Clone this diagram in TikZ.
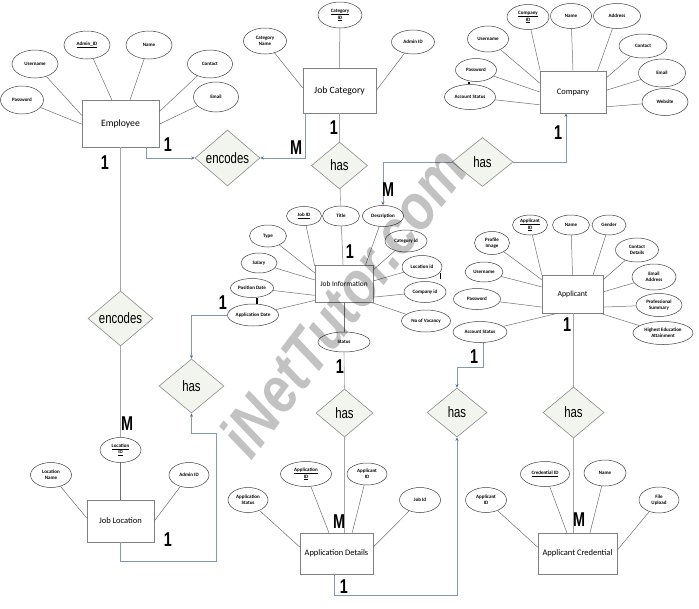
\documentclass[tikz,border=0pt]{standalone}
\usepackage{fontspec}
\setmainfont{Carlito}
\newfontfamily\relfont[FakeStretch=0.76]{Liberation Sans}
\newfontfamily\cardfont[FakeStretch=0.72]{Liberation Sans Bold}
\newfontfamily\wmfont[FakeStretch=0.85]{Liberation Sans Bold Italic}
\usetikzlibrary{shapes.geometric,arrows.meta,calc}
\definecolor{entline}{HTML}{808080}
\definecolor{ellline}{HTML}{404040}
\definecolor{attrline}{HTML}{707070}
\definecolor{plainline}{HTML}{A6A6A6}
\definecolor{connline}{HTML}{8398B8}
\definecolor{connarrow}{HTML}{4F6F9F}
\definecolor{relline}{HTML}{8C8C8C}
\definecolor{relfill}{HTML}{F2F4EE}
\tikzset{
 ent/.style n args={3}{draw=entline, line width=0.6pt, fill=white, rectangle, inner sep=0pt,
   minimum width=#1pt, minimum height=#2pt, font=\fontsize{#3}{#3}\selectfont},
 attr/.style 2 args={ellipse, draw=ellline, line width=0.5pt, fill=white, inner sep=0pt,
   minimum width=#1pt, minimum height=#2pt, align=center, font=\fontsize{5}{6}\selectfont\bfseries},
 rel/.style 2 args={diamond, aspect=1.2, draw=relline, fill=relfill, line width=0.6pt, inner sep=0pt,
   minimum width=#1pt, minimum height=#2pt, font=\relfont\fontsize{15}{16}\selectfont},
 card/.style={font=\cardfont\fontsize{20}{20}\selectfont, inner sep=0pt},
 aline/.style={draw=attrline, line width=0.5pt},
 rline/.style={draw=plainline, line width=0.6pt},
 conn/.style={draw=connline, line width=0.6pt, -{Stealth[length=3.5pt,width=3pt,color=connarrow]}},
 tick/.style={draw=black, line width=1.3pt},
 wm/.style={rotate=53, font=\wmfont\fontsize{64}{64}\selectfont, text=black, text opacity=0.24, inner sep=0pt},
}
\begin{document}
\begin{tikzpicture}[x=1pt,y=-1pt]
\fill[white] (0,0) rectangle (699,608);
\useasboundingbox (0,0) rectangle (699,608);

% entities
\node[ent={77}{47}{9.7}] (emp) at (120.5,123.5) {Employee};
\node[ent={73}{45}{9.7}] (jc) at (339.5,90.5) {Job Category};
\node[ent={66}{42}{8.4}] (comp) at (573,92) {Company};
\node[ent={58}{37}{7.4}] (ji) at (344,283.5) {Job Information};
\node[ent={61}{38}{7.8}] (app) at (572.5,294) {Applicant};
\node[ent={67}{42}{8.5}] (jl) at (120.5,521) {Job Location};
\node[ent={73}{41}{8.4}] (appdet) at (336.5,553.5) {Application Details};
\node[ent={79}{41}{8.5}] (acred) at (577.5,553.5) {Applicant Credential};

% relationships
\node[rel={65}{56}] (enc1) at (227.5,158) {encodes};
\node[rel={56}{47}] (has1) at (339.5,165.5) {has};
\node[rel={61}{49}] (has2) at (482.5,162) {has};
\node[rel={65}{54}] (has3) at (191.5,386) {has};
\node[rel={65}{55}] (enc2) at (120.5,318.5) {encodes};
\node[rel={57}{48}] (has4) at (344.5,413) {has};
\node[rel={60}{49}] (has5) at (457,412.5) {has};
\node[rel={61}{51}] (has6) at (573.5,412.5) {has};

% Employee attributes
\node[attr={43}{28}] (epw) at (22,100) {Password};
\node[attr={46}{28}] (eun) at (35,64) {Username};
\node[attr={46}{28}] (eid) at (87,45) {\underline{Admin\_ID}};
\node[attr={46}{28}] (enm) at (149,45) {Name};
\node[attr={45}{28}] (ect) at (210,64) {Contact};
\node[attr={45}{30}] (eem) at (216,97) {Email};
\draw[aline] (epw) -- (emp.181);
\draw[aline] (eun) -- (emp.168);
\draw[aline] (eid) -- (emp.110);
\draw[aline] (enm) -- (emp.68);
\draw[aline] (ect) -- (emp.17);
\draw[aline] (eem) -- (emp.359);

% Job Category attributes
\node[attr={43}{26}] (jcn) at (265,41) {Category\\Name};
\node[attr={44}{26}] (jcid) at (340,15) {\underline{Category}\\\underline{ID}};
\node[attr={43}{24}] (jca) at (413,42) {Admin ID};
\draw[aline] (jcn) -- (jc.176);
\draw[aline] (jcid) -- (jc.north);
\draw[aline] (jca) -- (jc.east);

% Company attributes
\node[attr={42}{25}] (cid) at (528,17) {\underline{Company}\\\underline{ID}};
\node[attr={41}{25}] (cnm) at (571,16) {Name};
\node[attr={47}{25}] (cad) at (617,16) {Address};
\node[attr={41}{26}] (cun) at (488,39) {Username};
\node[attr={48}{24}] (cct) at (643,46) {Contact};
\node[attr={41}{23}] (cpw) at (476,70) {Password};
\node[attr={47}{28}] (cem) at (662,73) {Email};
\node[attr={51}{25}] (cas) at (470,97) {Account Status};
\node[attr={46}{27}] (cws) at (665,102) {Website};
\draw[aline] (cid) -- (comp.147);
\draw[aline] (cnm) -- (comp.north);
\draw[aline] (cad) -- (comp.41);
\draw[aline] (cun) -- (comp.165);
\draw[aline] (cct) -- (comp.23);
\draw[aline] (cpw) -- (comp.180);
\draw[aline] (cem) -- (comp.3);
\draw[aline] (cas) -- (comp.201);
\draw[aline] (cws) -- (comp.336);
\draw[tick] ([xshift=-7pt]cpw.south) -- ([xshift=-1pt]cas.north);

% Job Information attributes
\node[attr={35}{19}] (jid) at (304,216) {\underline{Job ID}};
\node[attr={37}{20}] (jti) at (341,216) {Title};
\node[attr={41}{21}] (jde) at (383,216) {Description};
\node[attr={37}{22}] (jty) at (268,236) {Type};
\node[attr={42}{22}] (jci) at (406,241) {Category id};
\node[attr={36}{20}] (jsa) at (259,263) {Salary};
\node[attr={40}{23}] (jli) at (422,267) {Location id};
\node[attr={43}{19}] (jpd) at (252,288) {Position Date};
\node[attr={42}{21}] (jco) at (425,292) {Company id};
\node[attr={51}{22}] (jad) at (253,315) {Application Date};
\node[attr={49}{22}] (jnv) at (426,321) {No of Vacancy};
\node[attr={52}{20}] (jst) at (344,342) {Status};
\draw[aline] (jid) -- (ji.149);
\draw[aline] (jti) -- (ji.93);
\draw[aline] (jde) -- (ji.41);
\draw[aline] (jty) -- (ji.160);
\draw[aline] (jci) -- (ji.25);
\draw[aline] (jsa) -- (ji.173);
\draw[aline] (jli) -- (ji.5);
\draw[aline] (jpd) -- (ji.202);
\draw[aline] (jco) -- (ji.335);
\draw[aline] (jad) -- (ji.210);
\draw[aline] (jnv) -- (ji.325);
\draw[aline] (jst) -- (ji.south);
\draw[tick] ([xshift=5pt]jpd.south) -- ([xshift=4pt]jad.north);
\draw[tick] ([shift={(-2pt,-6pt)}]jli.east) -- ++(0,6);

% Applicant attributes
\node[attr={35}{20}] (aid) at (530,225) {\underline{Applicant}\\\underline{ID}};
\node[attr={37}{20}] (anm) at (571,225) {Name};
\node[attr={34}{20}] (age) at (609,225) {Gender};
\node[attr={35}{23}] (api) at (492,243) {Profile\\Image};
\node[attr={43}{24}] (acd) at (637,250) {Contact\\Details};
\node[attr={38}{20}] (aun) at (484,272) {Username};
\node[attr={44}{26}] (aea) at (654,277) {Email\\Address};
\node[attr={47}{21}] (apw) at (477,299) {Password};
\node[attr={46}{23}] (aps) at (659,305) {Professional\\Summary};
\node[attr={54}{21}] (aas) at (480,332) {Account Status};
\node[attr={60}{23}] (ahe) at (663,333) {Highest Education\\Attainment};
\draw[aline] (aid) -- (app.148);
\draw[aline] (anm) -- (app.north);
\draw[aline] (age) -- (app.43);
\draw[aline] (api) -- (app.155);
\draw[aline] (acd) -- (app.25);
\draw[aline] (aun) -- (app.167);
\draw[aline] (aea) -- (app.4);
\draw[aline] (apw) -- (app.203);
\draw[aline] (aps) -- (app.337);
\draw[aline] (aas) -- (app.232);
\draw[aline] (ahe) -- (app.325);

% Job Location attributes
\node[attr={41}{25}] (lid) at (120.5,450) {\underline{Location}\\\underline{ID}};
\node[attr={41}{25}] (lnm) at (51,475) {Location\\Name};
\node[attr={40}{25}] (lad) at (189,475) {Admin ID};
\draw[aline] (lid) -- (jl.north);
\draw[aline] (lnm) -- (jl.175);
\draw[aline] (lad) -- (jl.east);

% Application Details attributes
\node[attr={40}{25}] (das) at (248,500) {Application\\Status};
\node[attr={51}{25}] (did) at (306,474) {\underline{Application}\\\underline{ID}};
\node[attr={40}{22}] (dai) at (367,474) {Applicant\\ID};
\node[attr={41}{25}] (dji) at (420,500) {Job Id};
\draw[aline] (das) -- (appdet.170);
\draw[aline] (did) -- (appdet.110);
\draw[aline] (dai) -- (appdet.53);
\draw[aline] (dji) -- (appdet.10);

% Applicant Credential attributes
\node[attr={41}{25}] (rai) at (486,500) {Applicant\\ID};
\node[attr={49}{25}] (rci) at (545,474) {\underline{Credential ID}};
\node[attr={42}{26}] (rnm) at (605,473) {Name};
\node[attr={40}{26}] (rfu) at (659,500) {File\\Upload};
\draw[aline] (rai) -- (acred.171);
\draw[aline] (rci) -- (acred.117);
\draw[aline] (rnm) -- (acred.59);
\draw[aline] (rfu) -- (acred.5);

% relationship connectors
\draw[conn] ([xshift=25.5pt]emp.south) |- (enc1.west);
\draw[conn] ([xshift=-34.5pt]jc.south) |- (enc1.east);
\draw[rline] (jc.south) -- (has1.north);
\draw[rline] (has1) -- (jti);
\draw[conn] (has2.east) -| ([xshift=-7pt]comp.south);
\draw[conn] (has2.west) -| (jde.north);
\draw[rline] (emp.south) -- (enc2.north);
\draw[rline] (enc2.south) -- (lid.north);
\draw[conn] (jad.west) -| (has3.north);
\draw[conn] (jl.south) -- ++(0,19) -| ([shift={(25pt,-20pt)}]has3.south) -| (has3.south);
\draw[rline] (jst.south) -- (has4.north);
\draw[rline] (has4.south) -- (has4.south |- appdet.north);
\draw[conn] ([xshift=-2.5pt]appdet.south) -- ++(0,21) -| (has5.south);
\draw[conn] ([xshift=3pt]aas.south) |- ([yshift=20pt]has5.north) -- (has5.north);
\draw[rline] (has6.north |- app.south) -- (has6.north);
\draw[rline] (has6.south) -- (has6.south |- acred.north);

% cardinalities
\node[card] (k1) at (168,145) {1};
\node[card] (k2) at (105,163) {1};
\node[card] (k3) at (296,148) {M};
\node[card] (k4) at (334,128) {1};
\node[card] (k5) at (558,133) {1};
\node[card] (k6) at (388,190) {M};
\node[card] (k7) at (350,252) {1};
\node[card] (k8) at (223,303) {1};
\node[card] (k9) at (127,424) {M};
\node[card] (k10) at (168,540) {1};
\node[card] (k11) at (340,367) {1};
\node[card] (k12) at (339,522) {M};
\node[card] (k13) at (344,587) {1};
\node[card] (k14) at (474,357) {1};
\node[card] (k15) at (567,325) {1};
\node[card] (k16) at (579,520) {M};

% watermark
\node[wm] (wmark) at (343,302) {iNetTutor.com};
\end{tikzpicture}
\end{document}
